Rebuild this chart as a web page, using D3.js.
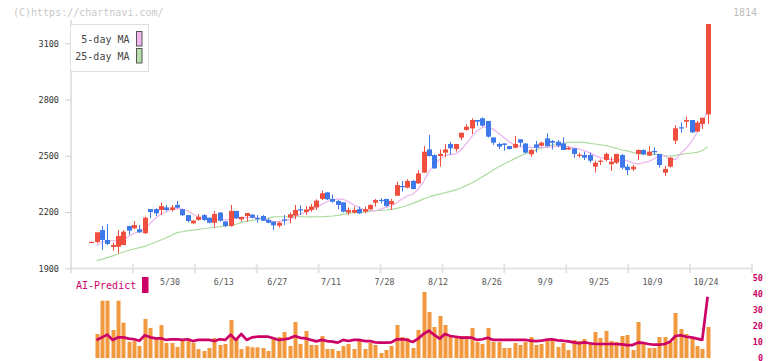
<!DOCTYPE html>
<html><head><meta charset="utf-8">
<script src="https://cdn.jsdelivr.net/npm/d3@7"></script>
<style>
html,body{margin:0;padding:0;background:#fff;}
svg{display:block;}
text{font-family:"DejaVu Sans Mono","Liberation Mono",monospace;}
</style></head><body>
<svg id="c" width="772" height="361"></svg>
<script>
const openP = [2039,2040,2104,2051,2014,2015,2024,2126,2113,2108,2087,2216,2216,2211,2225,2211,2238,2215,2184,2140,2158,2184,2170,2143,2197,2150,2126,2206,2161,2179,2186,2168,2179,2158,2149,2127,2161,2170,2181,2215,2200,2211,2225,2270,2305,2270,2259,2252,2197,2197,2216,2202,2214,2250,2265,2270,2241,2287,2339,2330,2366,2353,2410,2534,2504,2499,2517,2563,2536,2597,2638,2646,2691,2700,2686,2598,2563,2566,2552,2543,2588,2566,2508,2561,2554,2593,2579,2575,2566,2534,2540,2504,2504,2504,2442,2472,2478,2455,2463,2504,2442,2428,2510,2531,2501,2526,2510,2410,2442,2581,2652,2682,2691,2629,2670,2721];
const highP = [2042,2092,2126,2136,2037,2104,2104,2126,2152,2131,2175,2216,2220,2252,2238,2238,2259,2215,2184,2158,2190,2188,2170,2206,2200,2150,2238,2206,2175,2195,2190,2184,2184,2167,2149,2149,2184,2197,2238,2236,2232,2243,2268,2314,2305,2294,2264,2252,2225,2229,2229,2229,2241,2270,2273,2270,2270,2362,2366,2375,2371,2424,2552,2611,2508,2534,2563,2575,2563,2623,2668,2700,2691,2705,2686,2598,2570,2566,2552,2606,2588,2566,2536,2579,2575,2620,2584,2584,2598,2549,2540,2517,2522,2517,2474,2481,2517,2492,2510,2510,2455,2451,2534,2534,2552,2545,2510,2446,2495,2664,2678,2709,2691,2686,2703,3203];
const lowP = [2038,2033,1998,2024,1994,1980,2024,2078,2108,2090,2083,2167,2179,2184,2206,2202,2220,2179,2145,2135,2154,2152,2140,2117,2149,2119,2122,2163,2149,2149,2167,2143,2152,2140,2104,2117,2131,2140,2161,2184,2185,2202,2211,2264,2264,2250,2214,2198,2184,2193,2190,2193,2211,2229,2246,2229,2211,2286,2309,2326,2321,2350,2410,2495,2430,2442,2492,2504,2522,2584,2634,2616,2659,2655,2598,2558,2536,2527,2534,2540,2549,2513,2495,2518,2549,2549,2534,2545,2531,2531,2490,2490,2478,2463,2410,2451,2469,2419,2456,2428,2398,2419,2478,2504,2499,2504,2437,2392,2437,2563,2623,2650,2622,2629,2643,2670];
const closeP = [2041,2092,2051,2030,2024,2072,2095,2101,2131,2092,2170,2200,2193,2232,2211,2225,2223,2183,2152,2154,2175,2158,2143,2190,2154,2126,2206,2167,2174,2195,2170,2166,2154,2143,2129,2143,2154,2188,2211,2210,2214,2229,2261,2300,2268,2255,2238,2202,2211,2211,2193,2216,2238,2264,2262,2232,2259,2344,2335,2366,2323,2406,2522,2499,2433,2510,2534,2540,2563,2623,2655,2691,2682,2661,2602,2570,2549,2558,2536,2563,2570,2517,2531,2543,2570,2552,2570,2554,2531,2543,2510,2506,2490,2474,2463,2474,2510,2469,2510,2437,2424,2442,2531,2508,2522,2519,2451,2430,2490,2647,2646,2691,2625,2677,2703,3203];
const ma5 = [null,2021,2039,2047,2047,2047,2051,2069,2087,2095,2108,2140,2167,2188,2202,2215,2218,2216,2207,2188,2172,2167,2163,2163,2161,2158,2161,2167,2170,2172,2172,2170,2163,2158,2149,2149,2154,2161,2172,2190,2200,2211,2225,2241,2255,2264,2270,2268,2255,2238,2225,2211,2206,2207,2216,2225,2232,2250,2270,2286,2296,2321,2362,2415,2451,2481,2501,2508,2510,2531,2566,2602,2634,2652,2655,2641,2620,2598,2575,2558,2549,2545,2545,2543,2545,2545,2550,2552,2552,2549,2543,2536,2527,2517,2501,2490,2485,2481,2478,2478,2474,2463,2456,2463,2470,2483,2504,2499,2481,2481,2513,2540,2575,2623,2670,2745];
const ma25 = [null,1941,1948,1957,1966,1976,1987,1996,2003,2010,2017,2028,2039,2051,2063,2076,2090,2095,2101,2104,2108,2111,2115,2119,2122,2126,2129,2135,2145,2151,2156,2161,2165,2168,2174,2175,2175,2175,2175,2175,2175,2174,2175,2175,2177,2179,2182,2188,2193,2197,2198,2200,2204,2207,2209,2211,2214,2220,2227,2236,2246,2257,2270,2280,2289,2296,2303,2310,2318,2328,2341,2355,2371,2389,2406,2424,2442,2456,2470,2485,2499,2511,2522,2531,2540,2549,2559,2565,2568,2572,2572,2572,2572,2566,2563,2559,2554,2547,2540,2531,2526,2518,2511,2510,2508,2508,2506,2501,2499,2502,2508,2511,2515,2518,2527,2549];
const volume = [null,240,573,573,280,573,353,163,170,120,390,300,210,330,150,150,110,180,170,153,90,70,100,200,130,140,380,190,90,117,107,107,100,70,200,210,260,120,360,140,270,130,130,220,90,90,70,120,140,90,170,90,150,130,50,80,120,330,210,200,100,280,660,460,310,420,330,210,220,220,220,300,160,140,300,160,160,100,100,150,130,160,210,130,140,170,180,110,150,80,180,170,190,150,260,200,270,170,160,220,230,80,360,140,100,100,210,210,160,450,290,240,200,120,90,310];
const aiPredict = [null,11.3,12.9,14.6,11.3,12.9,12.9,12.1,11.7,10.8,14.2,12.9,12.3,12.3,11.3,11.7,11.7,11.3,11.7,10.6,11.3,11.3,11.3,10.6,11.7,11.3,14.6,11.3,15,11.3,12.9,13.3,13.3,13.3,12.3,11.3,11.7,12.3,13.75,12.6,12.3,11.3,10.4,11.3,10.6,10.2,9.6,11.3,10.6,11.3,11.3,10.6,10.6,9.8,9.6,9.6,9.8,11.7,11.7,11.3,10,12.1,15,17.1,14.4,12.1,15,13.75,13.3,12.7,12.7,12.7,11.3,11.7,12.7,11.3,11.3,11.3,11.3,11.3,11.3,11.3,10.8,10.6,10.8,11.5,11.7,11.0,10.8,10.4,9.8,9.2,9.8,9.2,8.75,8.75,8.75,8.75,8.75,8.5,8.1,8.1,9.6,9.4,8.75,8.3,8.3,8.75,10.2,13.75,14.2,13.3,12.9,12.1,11.3,38.3];
const priceTicks = [1900,2200,2500,2800,3100];
const dateTickIndex = [15,25,35,45,55,65,75,85,95,105,115];
const dateTickLabels = ["5/30","6/13","6/27","7/11","7/28","8/12","8/26","9/9","9/25","10/9","10/24"];
const predTicks = [0,10,20,30,40,50];

const svg = d3.select("#c");
const n = closeP.length;
const x = d3.scaleLinear().domain([0, n-1]).range([91.2, 707.6]);
const y = d3.scaleLinear().domain([1900, 3100]).range([268.3, 43.3]);
const yVol = d3.scaleLinear().domain([0, 700]).range([358, 288]);
const yPred = d3.scaleLinear().domain([0, 50]).range([358, 278]);
const axisTick = d3.scaleLinear().domain([0, 11]).range([71, 752]);

const UP = "#f04f3f", DOWN = "#3f78ea";

// copyright & code
svg.append("text").attr("x", 13).attr("y", 12.5).attr("dominant-baseline","middle")
  .attr("font-size", 10).attr("fill", "#c8c8c8").text("(C)https://chartnavi.com/");
svg.append("text").attr("x", 757).attr("y", 12.5).attr("dominant-baseline","middle")
  .attr("text-anchor","end").attr("font-size", 10).attr("fill", "#bdbdbd").text("1814");

// axes lines
svg.append("line").attr("x1", 71).attr("x2", 71).attr("y1", 20).attr("y2", 269)
  .attr("stroke", "#e3e3e3").attr("stroke-width", 2);
svg.append("line").attr("x1", 70).attr("x2", 753).attr("y1", 268.5).attr("y2", 268.5)
  .attr("stroke", "#e3e3e3").attr("stroke-width", 2);
svg.append("g").selectAll("line").data(d3.range(12)).join("line")
  .attr("x1", d => axisTick(d)).attr("x2", d => axisTick(d))
  .attr("y1", 264).attr("y2", 273).attr("stroke", "#e3e3e3").attr("stroke-width", 2);

// y axis
const yAxis = d3.axisLeft(y).tickValues(priceTicks).tickSize(6).tickPadding(6).tickFormat(d3.format("d"));
const gy = svg.append("g").attr("transform", "translate(71,0)").call(yAxis);
gy.select(".domain").remove();
gy.selectAll(".tick line").attr("stroke", "#cfcfcf");
gy.selectAll(".tick text").attr("font-family", "DejaVu Sans Mono, monospace").attr("font-size", 8.5).attr("fill", "#333");

// x labels
svg.append("g").selectAll("text").data(dateTickIndex).join("text")
  .attr("x", d => x(d) - 1.5).attr("y", 282.5).attr("text-anchor", "middle").attr("dominant-baseline","middle")
  .attr("font-size", 8.3).attr("fill", "#555").text((d, i) => dateTickLabels[i]);

// moving averages
const line = sc => d3.line().defined(d => d != null).x((d, i) => x(i)).y(d => sc(d));
svg.append("path").datum(ma25).attr("d", line(y)).attr("fill", "none")
  .attr("stroke", "#acdb9f").attr("stroke-width", 1.2);
svg.append("path").datum(ma5).attr("d", line(y)).attr("fill", "none")
  .attr("stroke", "#eab2ea").attr("stroke-width", 1.2);

// candles
const idx = d3.range(n);
const cg = svg.append("g");
cg.selectAll("line").data(idx).join("line")
  .attr("x1", i => Math.round(x(i)) + 0.5).attr("x2", i => Math.round(x(i)) + 0.5)
  .attr("y1", i => y(highP[i])).attr("y2", i => y(lowP[i]))
  .attr("stroke", i => closeP[i] >= openP[i] ? UP : DOWN).attr("stroke-width", 1);
cg.selectAll("rect").data(idx).join("rect")
  .attr("x", i => Math.round(x(i)) - 2).attr("width", 5)
  .attr("y", i => y(Math.max(openP[i], closeP[i])))
  .attr("height", i => Math.max(1.2, Math.abs(y(openP[i]) - y(closeP[i]))))
  .attr("fill", i => closeP[i] >= openP[i] ? UP : DOWN);

// legend
const lg = svg.append("g");
lg.append("rect").attr("x", 70.5).attr("y", 24.5).attr("width", 78).attr("height", 47)
  .attr("fill", "#fff").attr("stroke", "#dedede");
lg.append("text").attr("x", 129.5).attr("y", 40).attr("text-anchor","end").attr("dominant-baseline","middle")
  .attr("font-size", 10).attr("fill", "#444").text("5-day MA");
lg.append("text").attr("x", 129.5).attr("y", 57).attr("text-anchor","end").attr("dominant-baseline","middle")
  .attr("font-size", 10).attr("fill", "#444").text("25-day MA");
lg.append("rect").attr("x", 136.5).attr("y", 31.5).attr("width", 5.5).attr("height", 14.5)
  .attr("fill", "#f2b6ef").attr("stroke", "#555");
lg.append("rect").attr("x", 136.5).attr("y", 48.5).attr("width", 5.5).attr("height", 14.5)
  .attr("fill", "#b7deaa").attr("stroke", "#555");

// volume
svg.append("g").selectAll("rect").data(idx.filter(i => volume[i] != null)).join("rect")
  .attr("x", i => Math.round(x(i)) - 1.5).attr("width", 4)
  .attr("y", i => yVol(volume[i])).attr("height", i => yVol(0) - yVol(volume[i]))
  .attr("fill", "#f2983f");

// AI predict line
svg.append("path").datum(aiPredict).attr("d", line(yPred)).attr("fill", "none")
  .attr("stroke", "#cc0066").attr("stroke-width", 2.7).attr("stroke-linejoin", "round");

// right axis
svg.append("g").selectAll("text").data(predTicks).join("text")
  .attr("x", 763).attr("y", d => yPred(d)).attr("text-anchor", "end").attr("dominant-baseline","middle")
  .attr("font-size", 8.5).attr("font-weight", "bold").attr("fill", "#cc0066").text(d => d);

// AI-Predict label
svg.append("text").attr("x", 76).attr("y", 286).attr("dominant-baseline","middle")
  .attr("font-size", 10).attr("fill", "#cc0066").text("AI-Predict");
svg.append("rect").attr("x", 142).attr("y", 277).attr("width", 6.5).attr("height", 16).attr("fill", "#cc0066");
</script>
</body></html>
